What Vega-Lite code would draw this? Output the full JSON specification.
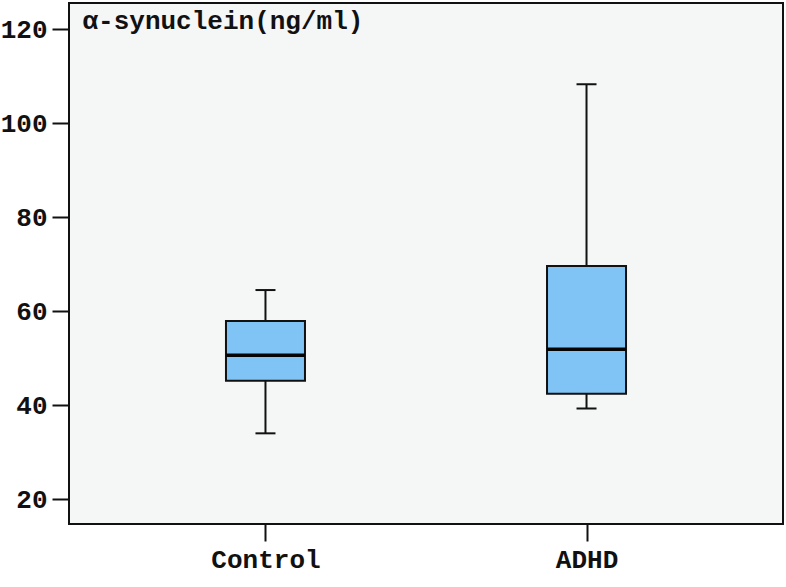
{
  "$schema": "https://vega.github.io/schema/vega-lite/v6.json",
  "autosize": "none",
  "width": 714,
  "height": 521,
  "padding": {"left": 69, "top": 3, "right": 3, "bottom": 63},
  "background": "white",
  "config": {
    "view": {"stroke": "#111", "strokeWidth": 2, "fill": "#f5f6f6"},
    "axis": {
      "grid": false,
      "domain": false,
      "tickColor": "#111",
      "tickWidth": 2,
      "tickSize": 17,
      "labelFont": "Liberation Mono",
      "labelFontWeight": "bold",
      "labelFontSize": 26,
      "labelColor": "#111",
      "titleFont": "Liberation Mono",
      "titleFontWeight": "bold",
      "titleFontSize": 26,
      "titleColor": "#111"
    }
  },
  "data": {
    "values": [
      {"group": "Control", "lower": 34.0, "q1": 45.2, "median": 50.6, "q3": 57.9, "upper": 64.5},
      {"group": "ADHD", "lower": 39.3, "q1": 42.4, "median": 51.9, "q3": 69.6, "upper": 108.3}
    ]
  },
  "encoding": {
    "x": {
      "field": "group",
      "type": "nominal",
      "sort": ["Control", "ADHD"],
      "scale": {"type": "point", "padding": 0.612},
      "axis": {"title": null, "labelAngle": 0, "labelPadding": 5}
    }
  },
  "layer": [
    {
      "mark": {"type": "rule", "color": "#111", "strokeWidth": 2, "opacity": 1},
      "encoding": {
        "y": {
          "field": "lower",
          "type": "quantitative",
          "scale": {"domain": [14.7, 125.6], "nice": false, "zero": false},
          "axis": {
            "values": [20, 40, 60, 80, 100, 120],
            "title": "α-synuclein(ng/ml)",
            "titleAngle": 0,
            "titleAlign": "left",
            "titleBaseline": "alphabetic",
            "titleX": 13,
            "titleY": 25,
            "labelPadding": 5
          }
        },
        "y2": {"field": "upper"}
      }
    },
    {
      "mark": {"type": "tick", "color": "#111", "opacity": 1, "size": 20, "thickness": 2},
      "encoding": {"y": {"field": "lower", "type": "quantitative"}}
    },
    {
      "mark": {"type": "tick", "color": "#111", "opacity": 1, "size": 20, "thickness": 2},
      "encoding": {"y": {"field": "upper", "type": "quantitative"}}
    },
    {
      "mark": {"type": "bar", "size": 79, "fill": "#80c4f5", "opacity": 1, "stroke": "#111", "strokeWidth": 2},
      "encoding": {
        "y": {"field": "q1", "type": "quantitative"},
        "y2": {"field": "q3"}
      }
    },
    {
      "mark": {"type": "tick", "color": "#050505", "opacity": 1, "size": 79, "thickness": 3.5},
      "encoding": {"y": {"field": "median", "type": "quantitative"}}
    }
  ]
}
